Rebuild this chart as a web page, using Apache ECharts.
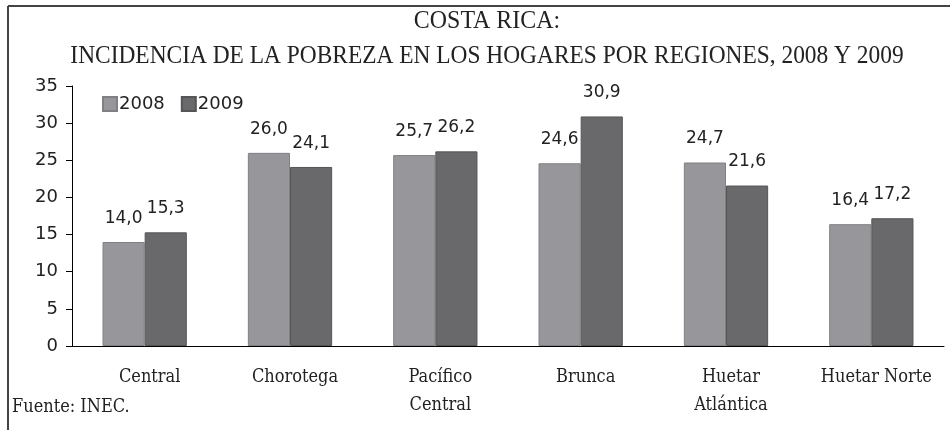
<!DOCTYPE html>
<html>
<head>
<meta charset="utf-8">
<script src="https://cdn.jsdelivr.net/npm/echarts@6/dist/echarts.min.js"></script>
<style>
  html, body { margin: 0; padding: 0; background: #fff; }
  #chart { width: 950px; height: 430px; }
</style>
</head>
<body>
<div id="chart"></div>
<script>
// datos
var regiones = ['Central', 'Chorotega', 'Pacífico\nCentral', 'Brunca', 'Huetar\nAtlántica', 'Huetar Norte'];
var datos2008 = [14.0, 26.0, 25.7, 24.6, 24.7, 16.4];
var datos2009 = [15.3, 24.1, 26.2, 30.9, 21.6, 17.2];
var anios = ['2008', '2009'];
var titulo1 = 'COSTA RICA:';
var titulo2 = 'INCIDENCIA DE LA POBREZA EN LOS HOGARES POR REGIONES, 2008 Y 2009';
var fuente = 'Fuente: INEC.';

var serifCond = '"DejaVu Serif Condensed", "DejaVu Serif", serif';
var sans = '"DejaVu Sans", Verdana, sans-serif';

function coma (p) {
    return p.value.toFixed(1).replace('.', ',');
}

var chart = echarts.init(document.getElementById('chart'));
chart.setOption({
    backgroundColor: '#fff',
    animation: false,
    grid: {
        left: 72,
        right: 6,
        top: 86,
        bottom: 84
    },
    legend: {
        left: 97,
        top: 90,
        itemWidth: 14,
        itemHeight: 14,
        itemGap: 16,
        icon: 'rect',
        textStyle: {
            fontFamily: sans,
            fontSize: 18,
            color: '#222',
            padding: [0, 0, 0, -3]
        },
        data: anios
    },
    xAxis: {
        type: 'category',
        data: regiones,
        axisLine: { lineStyle: { color: '#000', width: 1 } },
        axisTick: { length: 6, lineStyle: { color: '#000' } },
        axisLabel: {
            color: '#222',
            fontFamily: serifCond,
            fontSize: 18,
            lineHeight: 28,
            margin: 17,
            padding: [0, 0, 0, 10],
            interval: 0
        }
    },
    yAxis: {
        type: 'value',
        min: 0,
        max: 35,
        interval: 5,
        splitLine: { show: false },
        axisLine: { show: true, lineStyle: { color: '#000', width: 1 } },
        axisTick: { show: true, length: 6, lineStyle: { color: '#000' } },
        axisLabel: {
            color: '#222',
            fontFamily: sans,
            fontSize: 18,
            margin: 14
        }
    },
    series: [
        {
            name: anios[0],
            type: 'bar',
            barGap: '0%',
            barCategoryGap: '42%',
            itemStyle: { color: '#97979b', borderColor: '#808084', borderWidth: 1 },
            label: {
                show: true,
                position: 'top',
                distance: 15,
                fontFamily: sans,
                fontSize: 17,
                color: '#222',
                formatter: coma
            },
            data: datos2008
        },
        {
            name: anios[1],
            type: 'bar',
            itemStyle: { color: '#69696b', borderColor: '#555557', borderWidth: 1 },
            label: {
                show: true,
                position: 'top',
                distance: 15,
                fontFamily: sans,
                fontSize: 17,
                color: '#222',
                formatter: coma
            },
            data: datos2009
        }
    ],
    graphic: [
        {
            type: 'line',
            shape: { x1: 8, y1: 6, x2: 950, y2: 6 },
            style: { stroke: '#444', lineWidth: 2 }
        },
        {
            type: 'line',
            shape: { x1: 8, y1: 6, x2: 8, y2: 430 },
            style: { stroke: '#444', lineWidth: 2 }
        },
        {
            type: 'text',
            x: 487,
            y: 21,
            scaleX: 0.92,
            style: {
                text: titulo1,
                fontFamily: '"Liberation Serif", serif',
                fontSize: 26,
                fill: '#222',
                align: 'center',
                verticalAlign: 'middle'
            }
        },
        {
            type: 'text',
            x: 487,
            y: 56,
            scaleX: 0.9,
            style: {
                text: titulo2,
                fontFamily: '"Liberation Serif", serif',
                fontSize: 26,
                fill: '#222',
                align: 'center',
                verticalAlign: 'middle'
            }
        },
        {
            type: 'text',
            x: 12,
            y: 407,
            style: {
                text: fuente,
                fontFamily: serifCond,
                fontSize: 18,
                fill: '#222',
                align: 'left',
                verticalAlign: 'middle'
            }
        }
    ]
});
</script>
</body>
</html>
